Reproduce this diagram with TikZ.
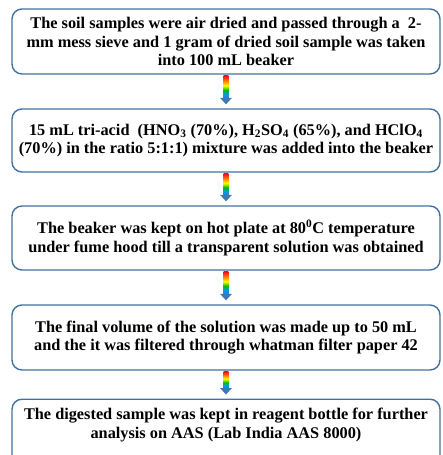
\documentclass[tikz,border=0pt]{standalone}
\usepackage{fontspec}
\setmainfont{Liberation Serif}
\usetikzlibrary{calc}
\definecolor{boxline}{HTML}{41719C}
\definecolor{arrowblue}{HTML}{3C78B4}
\pgfdeclareverticalshading{rainbowshaft}{100bp}{%
  color(0bp)=(arrowblue);
  color(25bp)=(arrowblue);
  color(33bp)=(cyan!60!blue);
  color(43bp)=(green!75!black);
  color(53bp)=(yellow);
  color(63bp)=(orange);
  color(75bp)=(red!85!magenta);
  color(100bp)=(red!85!magenta)}
\tikzset{
  stepbox/.style={draw=boxline, line width=1.4pt, rounded corners=10pt,
    minimum width=428pt, align=center, inner sep=0pt,
    font=\fontsize{16.3}{18.5}\selectfont\bfseries},
}
\newcommand{\flowarrow}[2]{%
  \shade[shading=rainbowshaft] ($(#1.south)+(-2.3pt,-0.7pt)$) rectangle ($(#2.north)+(2.3pt,10pt)$);
  \fill[arrowblue] ($(#2.north)+(-6pt,10.5pt)$) -- ($(#2.north)+(6pt,10.5pt)$) -- ($(#2.north)+(0,4pt)$) -- cycle;
}
\begin{document}
\begin{tikzpicture}[x=1pt,y=-1pt]
\clip (0,0) rectangle (442,455);
\node[stepbox, minimum height=65pt] (b1) at (226,41.5) {The soil samples were air dried and passed through a \ 2-\\mm mess sieve and 1 gram of dried soil sample was taken\\into 100 mL beaker};
\node[stepbox, minimum height=63pt] (b2) at (226,140.5) {15 mL tri-acid \ (HNO\textsubscript{3} (70\%), H\textsubscript{2}SO\textsubscript{4} (65\%), and HClO\textsubscript{4}\\(70\%) in the ratio 5:1:1) mixture was added into the beaker};
\node[stepbox, minimum height=64pt] (b3) at (226,238) {The beaker was kept on hot plate at 80\textsuperscript{0}C temperature\\under fume hood till a transparent solution was obtained};
\node[stepbox, minimum height=65pt] (b4) at (226,337.5) {The final volume of the solution was made up to 50 mL\\and the it was filtered through whatman filter paper 42};
\node[stepbox, anchor=north, inner ysep=9pt] (b5) at (226,398.5) {The digested sample was kept in reagent bottle for further\\analysis on AAS (Lab India AAS 8000)\\[30pt]\mbox{}};
\flowarrow{b1}{b2}
\flowarrow{b2}{b3}
\flowarrow{b3}{b4}
\flowarrow{b4}{b5}
\end{tikzpicture}
\end{document}
